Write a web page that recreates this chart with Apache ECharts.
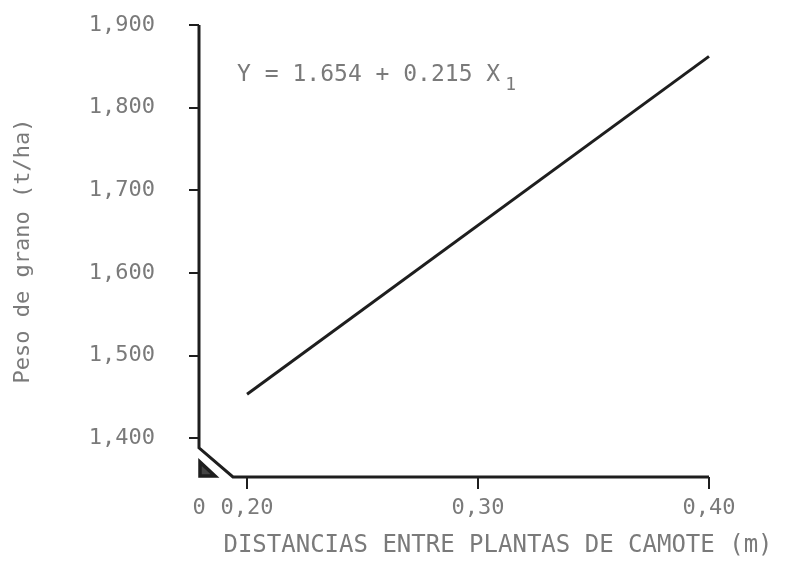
<!DOCTYPE html>
<html>
<head>
<meta charset="utf-8">
<script src="https://cdn.jsdelivr.net/npm/echarts@6/dist/echarts.min.js"></script>
<style>html,body{margin:0;padding:0;background:#fff}#c{width:796px;height:565px}</style>
</head>
<body>
<div id="c"></div>
<script>
// ---- data ----
const xValues = [0.20, 0.40];          // distancia entre plantas (m)
const yValues = [1453, 1862];          // peso de grano
const xTicks = [0.20, 0.30, 0.40];
const yTicks = [1400, 1500, 1600, 1700, 1800, 1900];
const xTitle = 'DISTANCIAS ENTRE PLANTAS DE CAMOTE (m)';
const yTitle = 'Peso de grano (t/ha)';
const equation = 'Y = 1.654 + 0.215 X';
const equationSub = '1';

// axis extents (broken axes)
const xMin = 0.1792, xMax = 0.40, xBreak = 0.1939;
const yMin = 1352.8, yMax = 1900, yBreak = 1388;

const FONT = '"DejaVu Sans Mono", monospace';
const TXT = '#7a7a7a';
const INK = '#1e1e1e';

const chart = echarts.init(document.getElementById('c'), null, {renderer: 'canvas'});
const option = {
  backgroundColor: '#fff',
  animation: false,
  grid: {left: 199, right: 87, top: 25, bottom: 88, containLabel: false, outerBoundsMode: 'none'},
  xAxis: {
    type: 'value', min: xMin, max: xMax,
    name: xTitle, nameLocation: 'middle', nameGap: 57,
    nameTextStyle: {fontFamily: FONT, fontSize: 24, color: TXT, padding: [0, 0, 0, 88]},
    axisLine: {show: false},
    axisTick: {show: true, length: 12, inside: false, customValues: xTicks, lineStyle: {color: INK, width: 2}},
    axisLabel: {
      customValues: [xMin].concat(xTicks), margin: 20,
      fontFamily: FONT, fontSize: 22, color: TXT,
      formatter: v => (v < 0.19 ? '0' : v.toFixed(2).replace('.', ','))
    },
    splitLine: {show: false}
  },
  yAxis: {
    type: 'value', min: yMin, max: yMax,
    name: yTitle, nameLocation: 'middle', nameGap: 165, nameRotate: 90,
    nameTextStyle: {fontFamily: FONT, fontSize: 22, color: TXT},
    axisLine: {show: false},
    axisTick: {show: true, length: 10, inside: false, customValues: yTicks, lineStyle: {color: INK, width: 2}},
    axisLabel: {
      customValues: yTicks, margin: 44,
      fontFamily: FONT, fontSize: 22, color: TXT,
      formatter: v => String(v).replace(/^(\d)(\d{3})$/, '$1,$2')
    },
    splitLine: {show: false}
  },
  series: [{
    type: 'line',
    data: xValues.map((x, i) => [x, yValues[i]]),
    symbol: 'none',
    lineStyle: {color: INK, width: 3}
  }]
};
chart.setOption(option);

const p = (x, y) => chart.convertToPixel({gridIndex: 0}, [x, y]);
const a = p(xMin, yMax), b = p(xMin, yBreak), c = p(xBreak, yMin), d = p(xMax, yMin);
const eq = p(0.1957, 1862);
chart.setOption({
  graphic: [
    {type: 'polyline', shape: {points: [a, b, c, d]}, style: {stroke: INK, lineWidth: 3, fill: null}, z: 10},
    {type: 'polygon', shape: {points: [[b[0] + 1, b[1] + 14], [b[0] + 1, c[1] - 1], [b[0] + 16, c[1] - 1]]},
     style: {stroke: INK, lineWidth: 3.5, fill: '#444'}, z: 10},
    {type: 'text', x: eq[0], y: eq[1], z: 10,
     style: {text: '{m|' + equation + '}{s|' + equationSub + '}', fill: TXT,
       rich: {m: {fontFamily: FONT, fontSize: 23, color: TXT},
              s: {fontFamily: FONT, fontSize: 18, color: TXT, padding: [20, 0, 0, 5]}}}}
  ]
});
</script>
</body>
</html>
